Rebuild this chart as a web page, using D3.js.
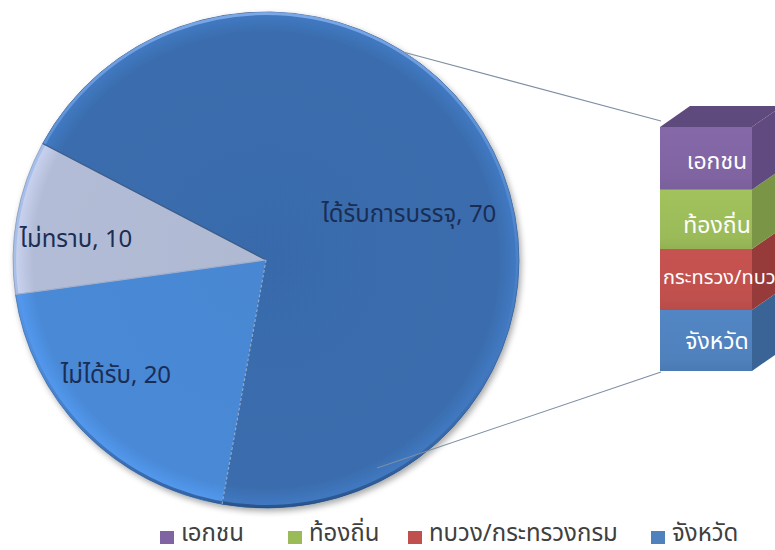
<!DOCTYPE html>
<html><head><meta charset="utf-8">
<script src="https://cdn.jsdelivr.net/npm/d3@7"></script>
<style>
html,body{margin:0;padding:0;background:#fff;}
svg{display:block;}
text{font-family:"Leelawadee UI","Tahoma","Noto Sans Thai","Noto Sans","DejaVu Sans",sans-serif;}
</style></head>
<body>
<svg id="chart" width="775" height="550"></svg>
<script>
// ---- data ----
const pieCategories = ["ได้รับการบรรจุ", "ไม่ได้รับ", "ไม่ทราบ"];
const pieValues = [70, 20, 10];
const pieColors = ["#3a6dae", "#4a89d6", "#b3bcd6"];
const pieLabelColors = ["#1a2d54", "#1a2d54", "#1a2d54"];

const barCategories = ["จังหวัด", "กระทรวง/ทบวง", "ท้องถิ่น", "เอกชน"];
const barValues = [17.5, 17.5, 17, 18];
const barFront = ["#4f81bd", "#c0504d", "#9bbb59", "#8064a2"];
const barSide  = ["#3a6496", "#963b39", "#7a9545", "#604a80"];
const barTop   = ["#3d6699", "#9a3d3a", "#7d9847", "#5e4a7c"];

const legendLabels = ["เอกชน", "ท้องถิ่น", "ทบวง/กระทรวงกรม", "จังหวัด"];
const legendColors = ["#8064a2", "#9bbb59", "#c0504d", "#4f81bd"];

// ---- layout ----
const svg = d3.select("#chart");
const defs = svg.append("defs");

const cx = 266, cy = 260, R = 248, sx = 1.02;
const startDeg = -62;

// shadow filter
const f = defs.append("filter").attr("id","shadow").attr("x","-10%").attr("y","-10%").attr("width","130%").attr("height","130%");
f.append("feGaussianBlur").attr("in","SourceAlpha").attr("stdDeviation",3);
f.append("feOffset").attr("dx",2).attr("dy",3).attr("result","b");
f.append("feComponentTransfer").append("feFuncA").attr("type","linear").attr("slope",0.35);
const fm = f.append("feMerge"); fm.append("feMergeNode"); fm.append("feMergeNode").attr("in","SourceGraphic");

// slice gradients
pieColors.forEach((c,i)=>{
  const g = defs.append("radialGradient").attr("id","pg"+i)
    .attr("gradientUnits","userSpaceOnUse").attr("cx",0).attr("cy",0).attr("r",R);
  const base = d3.color(c);
  g.append("stop").attr("offset","0%").attr("stop-color", base.darker(0.05));
  g.append("stop").attr("offset","92%").attr("stop-color", base);
  g.append("stop").attr("offset","100%").attr("stop-color", base.brighter(0.35));
});
const edge = defs.append("linearGradient").attr("id","edge").attr("x1",0).attr("y1",0).attr("x2",0).attr("y2",1);
edge.append("stop").attr("offset","0%").attr("stop-color","#9cc3ff").attr("stop-opacity",0.9);
edge.append("stop").attr("offset","55%").attr("stop-color","#5b8fd4").attr("stop-opacity",0.4);
edge.append("stop").attr("offset","100%").attr("stop-color","#1d3f6e").attr("stop-opacity",0.9);

const pie = d3.pie().sort(null).value(d=>d)
  .startAngle(startDeg*Math.PI/180).endAngle((startDeg+360)*Math.PI/180);
const arcs = pie(pieValues);
const arc = d3.arc().innerRadius(0).outerRadius(R);

const pg = svg.append("g").attr("transform",`translate(${cx},${cy}) scale(${sx},1)`);
const shadowG = pg.append("g").attr("filter","url(#shadow)");
shadowG.selectAll("path.slice").data(arcs).join("path").attr("class","slice")
  .attr("d",arc).attr("fill",(d,i)=>`url(#pg${i})`)
  .attr("stroke",(d,i)=>d3.color(pieColors[i]).darker(0.6)).attr("stroke-width",0.8);
// rim highlight
pg.append("circle").attr("r",R-1.5).attr("fill","none").attr("stroke","url(#edge)").attr("stroke-width",3).attr("opacity",0.7);
// slice boundary highlight lines
arcs.forEach((d,i)=>{
  const a = d.startAngle;
  pg.append("line").attr("x1",0).attr("y1",0)
    .attr("x2",R*Math.sin(a)).attr("y2",-R*Math.cos(a))
    .attr("stroke",i===0?"#2a4f80":"#9fb6dc").attr("stroke-width",1.2)
    .attr("stroke-dasharray", i===1?"3,2":null).attr("opacity",0.8);
});

// pie labels
const labelPos = [[409,222],[116,383],[76,247]];
svg.selectAll("text.plabel").data(arcs).join("text").attr("class","plabel")
  .attr("x",(d,i)=>labelPos[i][0]).attr("y",(d,i)=>labelPos[i][1])
  .attr("text-anchor","middle").attr("font-size",24).attr("fill",(d,i)=>pieLabelColors[i])
  .text((d,i)=>`${pieCategories[i]}, ${pieValues[i]}`);

// ---- bar of pie ----
const total = d3.sum(barValues);
const y = d3.scaleLinear().domain([0,total]).range([371,127]);
const bx0 = 660, bx1 = 752, dx = 30, dy = -21;
let cum = 0;
const segs = barValues.map((v,i)=>{ const s={i,v,y0:cum,y1:cum+v}; cum+=v; return s; });

// connector lines
const conn = svg.append("g").attr("stroke","#7f8ea3").attr("stroke-width",1.1).attr("fill","none");
conn.append("line").attr("x1",403).attr("y1",52).attr("x2",bx0+1).attr("y2",y(total)-6);
conn.append("line").attr("x1",377).attr("y1",468).attr("x2",bx0+1).attr("y2",y(0)+1);

const bar = svg.append("g");
// front gradients
barFront.forEach((c,i)=>{
  const g = defs.append("linearGradient").attr("id","bf"+i).attr("x1",0).attr("y1",0).attr("x2",0).attr("y2",1);
  const b = d3.color(c);
  g.append("stop").attr("offset","0%").attr("stop-color",b.brighter(0.1));
  g.append("stop").attr("offset","80%").attr("stop-color",b);
  g.append("stop").attr("offset","100%").attr("stop-color",b.darker(0.15));
});
// side faces
bar.selectAll("path.side").data(segs).join("path").attr("class","side")
  .attr("d",d=>`M${bx1},${y(d.y1)} L${bx1+dx},${y(d.y1)+dy} L${bx1+dx},${y(d.y0)+dy} L${bx1},${y(d.y0)} Z`)
  .attr("fill",d=>barSide[d.i]);
// front faces
bar.selectAll("rect.front").data(segs).join("rect").attr("class","front")
  .attr("x",bx0).attr("width",bx1-bx0)
  .attr("y",d=>y(d.y1)).attr("height",d=>y(d.y0)-y(d.y1))
  .attr("fill",d=>`url(#bf${d.i})`);
// top face
const topSeg = segs[segs.length-1];
bar.append("path")
  .attr("d",`M${bx0},${y(total)} L${bx0+dx},${y(total)+dy} L${bx1+dx},${y(total)+dy} L${bx1},${y(total)} Z`)
  .attr("fill",barTop[topSeg.i]);
// bar labels
const labelAnchor = ["middle","start","middle","middle"];
const labelDy = [8, 4, 14, 11];
const labelSize = [23, 20, 23, 23];
bar.selectAll("text.blabel").data(segs).join("text").attr("class","blabel")
  .attr("x",d=>labelAnchor[d.i]==="start"?bx0+3:717)
  .attr("y",d=>(y(d.y0)+y(d.y1))/2+labelDy[d.i])
  .attr("text-anchor",d=>labelAnchor[d.i])
  .attr("font-size",d=>labelSize[d.i]).attr("fill","#fff")
  .text(d=>barCategories[d.i]);

// ---- legend ----
const legX = [160, 288, 408, 651];
const lg = svg.append("g");
legendLabels.forEach((l,i)=>{
  lg.append("rect").attr("x",legX[i]).attr("y",531).attr("width",14).attr("height",13).attr("fill",legendColors[i]);
  lg.append("text").attr("x",legX[i]+21).attr("y",541).attr("font-size",24).attr("fill","#404040").text(l);
});
</script>
</body></html>
